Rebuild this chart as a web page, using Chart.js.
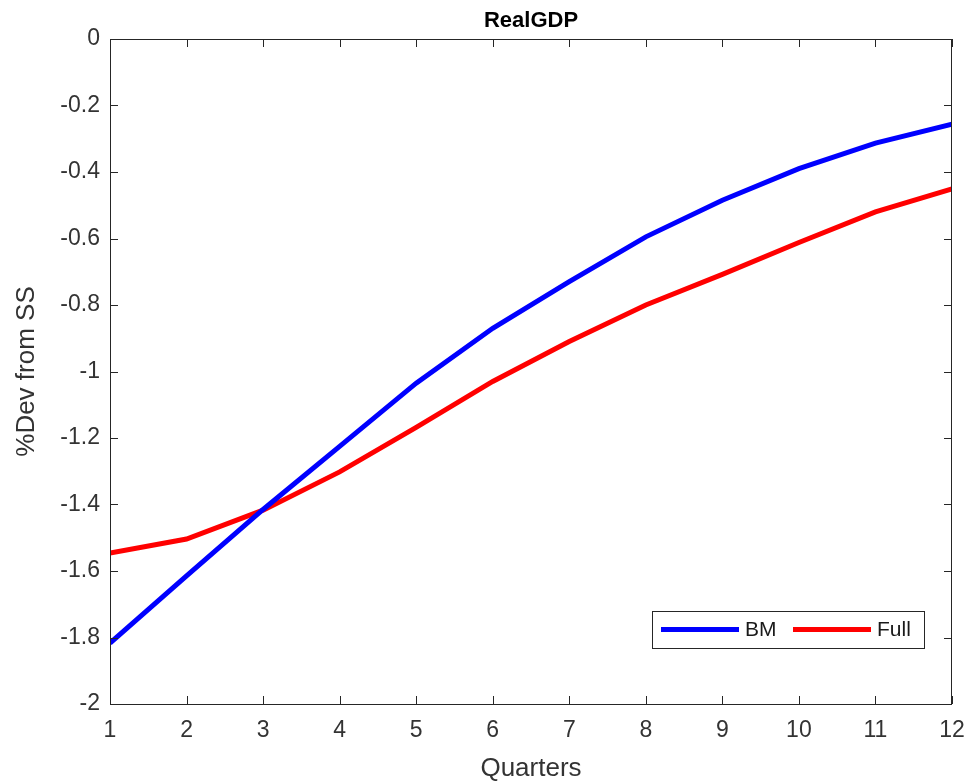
<!DOCTYPE html>
<html>
<head>
<meta charset="utf-8">
<script src="https://cdn.jsdelivr.net/npm/chart.js@4.4.1/dist/chart.umd.min.js"></script>
<style>
  html, body { margin: 0; padding: 0; background: #fff; }
  #wrap { width: 971px; height: 784px; }
</style>
</head>
<body>
<div id="wrap"><canvas id="c" width="971" height="784"></canvas></div>
<script>
// data
const quarters = [1, 2, 3, 4, 5, 6, 7, 8, 9, 10, 11, 12];
const bmValues = [-1.817, -1.615, -1.415, -1.225, -1.035, -0.87, -0.73, -0.595, -0.485, -0.39, -0.313, -0.256];
const fullValues = [-1.546, -1.504, -1.417, -1.302, -1.168, -1.03, -0.91, -0.80, -0.708, -0.612, -0.52, -0.451];
const yTicks = [0, -0.2, -0.4, -0.6, -0.8, -1, -1.2, -1.4, -1.6, -1.8, -2];

const FONT = "'Liberation Sans', Arial, sans-serif";
const AXIS = "#262626";

// matlab style box with inward ticks on all four sides, plus title and legend
const matlabBox = {
  id: "matlabBox",
  afterDatasetsDraw(chart) {
    const { ctx, chartArea: a, scales } = chart;
    ctx.save();
    ctx.strokeStyle = AXIS;
    ctx.lineWidth = 1;
    ctx.strokeRect(a.left + 0.5, a.top + 0.5, a.right - a.left - 1, a.bottom - a.top);
    const t = 8;
    ctx.beginPath();
    quarters.forEach(q => {
      const x = Math.round(scales.x.getPixelForValue(q)) + 0.5;
      ctx.moveTo(x, a.bottom); ctx.lineTo(x, a.bottom - t);
      ctx.moveTo(x, a.top); ctx.lineTo(x, a.top + t);
    });
    yTicks.forEach(v => {
      const y = Math.round(scales.y.getPixelForValue(v)) + 0.5;
      ctx.moveTo(a.left, y); ctx.lineTo(a.left + t, y);
      ctx.moveTo(a.right, y); ctx.lineTo(a.right - t, y);
    });
    ctx.stroke();

    // title
    ctx.fillStyle = "#000";
    ctx.font = "bold 22px " + FONT;
    ctx.textAlign = "center";
    ctx.textBaseline = "middle";
    ctx.fillText("RealGDP", (a.left + a.right) / 2, 21);

    // legend
    const lx = 652, ly = 611, lw = 272, lh = 37;
    ctx.fillStyle = "#fff";
    ctx.fillRect(lx, ly, lw, lh);
    ctx.strokeStyle = AXIS;
    ctx.strokeRect(lx + 0.5, ly + 0.5, lw, lh);
    const items = chart.data.datasets;
    const starts = [661, 793];
    ctx.font = "21px " + FONT;
    ctx.textAlign = "left";
    items.forEach((ds, i) => {
      const sx = starts[i], cy = ly + lh / 2;
      ctx.strokeStyle = ds.borderColor;
      ctx.lineWidth = 5;
      ctx.beginPath(); ctx.moveTo(sx, cy); ctx.lineTo(sx + 78, cy); ctx.stroke();
      ctx.fillStyle = "#1a1a1a";
      ctx.fillText(ds.label, sx + 84, cy + 1);
    });
    ctx.restore();
  }
};

new Chart(document.getElementById("c"), {
  type: "line",
  data: {
    datasets: [
      { label: "BM", data: quarters.map((q, i) => ({ x: q, y: bmValues[i] })), borderColor: "#0000ff", borderWidth: 5, pointRadius: 0, tension: 0 },
      { label: "Full", data: quarters.map((q, i) => ({ x: q, y: fullValues[i] })), borderColor: "#ff0000", borderWidth: 5, pointRadius: 0, tension: 0 }
    ]
  },
  options: {
    responsive: false,
    animation: false,
    layout: { padding: { top: 39, right: 19, left: 0, bottom: 0 } },
    plugins: { legend: { display: false }, tooltip: { enabled: false }, title: { display: false } },
    scales: {
      x: {
        type: "linear", min: 1, max: 12,
        afterFit: s => { s.height = 80; s.paddingRight = 0; s.paddingLeft = 0; },
        afterBuildTicks: s => { s.ticks = quarters.map(v => ({ value: v })); },
        grid: { display: false, drawTicks: false },
        border: { display: false },
        ticks: { color: "#333", font: { family: FONT, size: 23 }, padding: 13, maxRotation: 0 },
        title: { display: true, text: "Quarters", color: "#333", font: { family: FONT, size: 26 }, padding: { top: 0, bottom: 0 } }
      },
      y: {
        type: "linear", min: -2, max: 0,
        afterFit: s => { s.width = 110; s.paddingTop = 0; s.paddingBottom = 0; },
        afterBuildTicks: s => { s.ticks = yTicks.map(v => ({ value: v })); },
        grid: { display: false, drawTicks: false },
        border: { display: false },
        ticks: { color: "#333", font: { family: FONT, size: 23 }, padding: 10, callback: v => String(v) },
        title: { display: true, text: "%Dev from SS", color: "#333", font: { family: FONT, size: 26 }, padding: { bottom: 0, top: 11 } }
      }
    }
  },
  plugins: [matlabBox]
});
</script>
</body>
</html>
